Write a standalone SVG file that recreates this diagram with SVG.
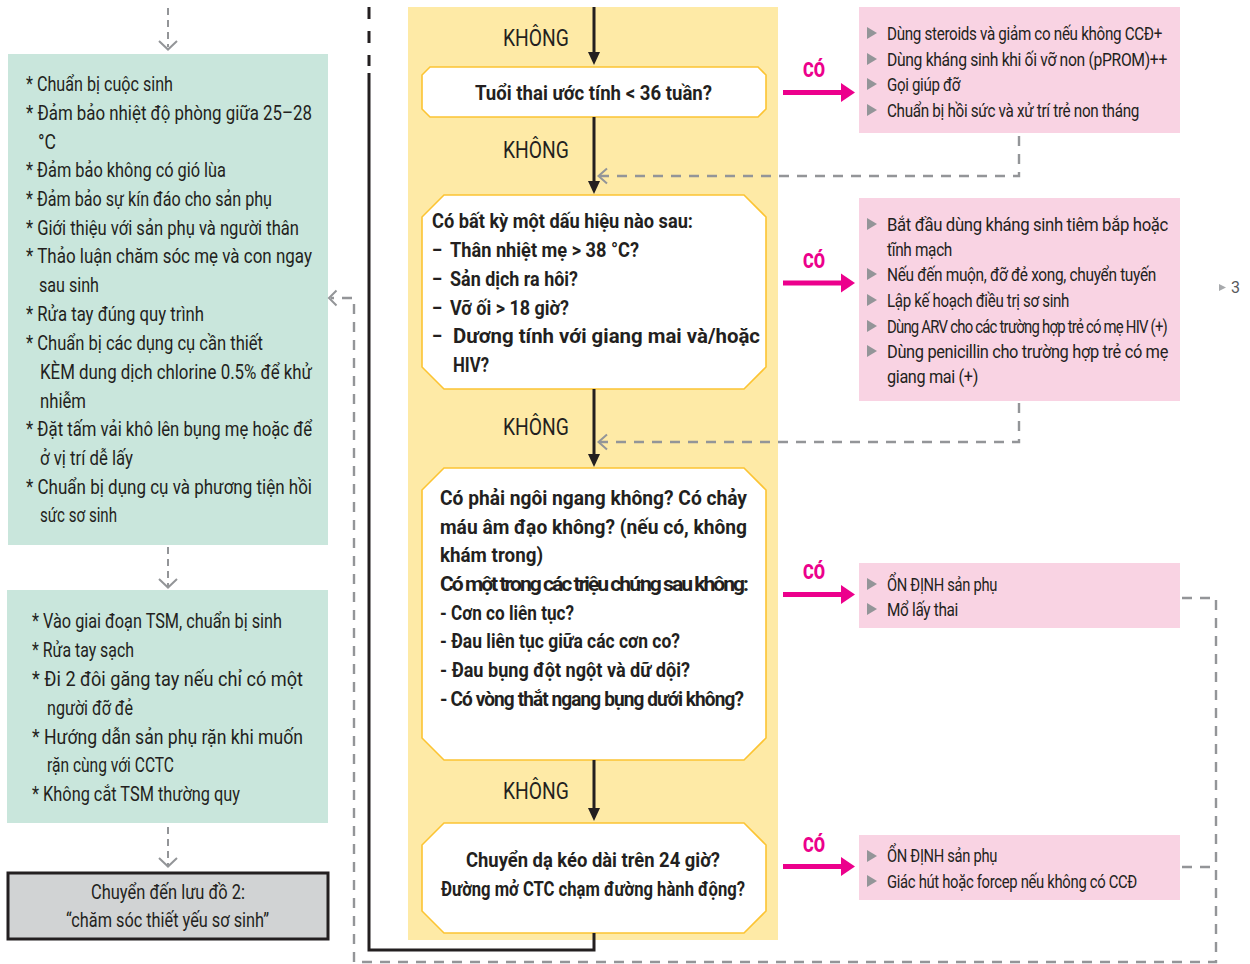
<svg xmlns="http://www.w3.org/2000/svg" width="1250" height="964" viewBox="0 0 1250 964">
  <style>
    .t { font-family: Roboto, "Noto Sans", "Liberation Sans", sans-serif; fill: #231f20; }
    .lst { font-size: 20px; }
    .pk { font-size: 19px; letter-spacing: -0.4px; }
    .q { font-size: 21px; font-weight: bold; }
    .no { font-size: 23px; }
    .yes { font-size: 21px; font-weight: 900; fill: #ec008c; }
    .green { fill: #c9e6dc; }
    .pink { fill: #f9d3e3; }
    .oct { fill: #ffffff; stroke: #fcc433; stroke-width: 1.6; }
    .dash { fill: none; stroke: #939598; stroke-width: 2.4; stroke-dasharray: 10 8; }
    .dashs { fill: none; stroke: #939598; stroke-width: 2; stroke-dasharray: 7 5; }
    .chev { fill: none; stroke: #939598; stroke-width: 2; }
    .blk { fill: none; stroke: #231f20; stroke-width: 3; }
    .blkhd { fill: #231f20; }
    .pkln { stroke: #ec008c; stroke-width: 5; }
    .pkhd { fill: #ec008c; }
    .tri { fill: #939598; }
  </style>

  <!-- yellow decision column -->
  <rect id="decision-band" x="408" y="7" width="370" height="933" fill="#feeaa6"/>

  <!-- left column: preparation steps -->
  <g id="prep-birth">
    <rect class="green" x="8" y="54" width="320" height="491"/>
    <g class="t lst">
      <text x="26" y="91" textLength="147" lengthAdjust="spacingAndGlyphs">* Chuẩn bị cuộc sinh</text>
      <text x="26" y="120" textLength="286" lengthAdjust="spacingAndGlyphs">* Đảm bảo nhiệt độ phòng giữa 25–28</text>
      <text x="38" y="148.5" textLength="18" lengthAdjust="spacingAndGlyphs">°C</text>
      <text x="26" y="177" textLength="200" lengthAdjust="spacingAndGlyphs">* Đảm bảo không có gió lùa</text>
      <text x="26" y="206" textLength="246" lengthAdjust="spacingAndGlyphs">* Đảm bảo sự kín đáo cho sản phụ</text>
      <text x="26" y="234.5" textLength="273" lengthAdjust="spacingAndGlyphs">* Giới thiệu với sản phụ và người thân</text>
      <text x="26" y="263" textLength="286" lengthAdjust="spacingAndGlyphs">* Thảo luận chăm sóc mẹ và con ngay</text>
      <text x="39" y="292" textLength="60" lengthAdjust="spacingAndGlyphs">sau sinh</text>
      <text x="26" y="321" textLength="178" lengthAdjust="spacingAndGlyphs">* Rửa tay đúng quy trình</text>
      <text x="26" y="350" textLength="237" lengthAdjust="spacingAndGlyphs">* Chuẩn bị  các dụng cụ cần thiết</text>
      <text x="40" y="379" textLength="272" lengthAdjust="spacingAndGlyphs">KÈM dung dịch chlorine 0.5% để khử</text>
      <text x="40" y="407.5" textLength="46" lengthAdjust="spacingAndGlyphs">nhiễm</text>
      <text x="26" y="436" textLength="286" lengthAdjust="spacingAndGlyphs">* Đặt tấm vải khô lên bụng mẹ hoặc để</text>
      <text x="40" y="465" textLength="93" lengthAdjust="spacingAndGlyphs">ở vị trí dễ lấy</text>
      <text x="26" y="493.5" textLength="286" lengthAdjust="spacingAndGlyphs">* Chuẩn bị dụng cụ và phương tiện hồi</text>
      <text x="40" y="522" textLength="77" lengthAdjust="spacingAndGlyphs">sức sơ sinh</text>
    </g>
  </g>

  <g id="second-stage">
    <rect class="green" x="7" y="590" width="321" height="233"/>
    <g class="t lst">
      <text x="32" y="628" textLength="250" lengthAdjust="spacingAndGlyphs">* Vào giai đoạn TSM, chuẩn bị sinh</text>
      <text x="32" y="657" textLength="102" lengthAdjust="spacingAndGlyphs">* Rửa tay sạch</text>
      <text x="32" y="686" textLength="271" lengthAdjust="spacingAndGlyphs">* Đi 2 đôi găng tay nếu chỉ có một</text>
      <text x="47" y="715" textLength="86" lengthAdjust="spacingAndGlyphs">người đỡ đẻ</text>
      <text x="32" y="743.5" textLength="271" lengthAdjust="spacingAndGlyphs">* Hướng dẫn sản phụ rặn khi muốn</text>
      <text x="47" y="772" textLength="127" lengthAdjust="spacingAndGlyphs">rặn cùng với CCTC</text>
      <text x="32" y="801" textLength="208" lengthAdjust="spacingAndGlyphs">* Không cắt TSM thường quy</text>
    </g>
  </g>

  <g id="goto-chart-2">
    <rect x="8" y="873" width="320" height="66" fill="#d1d3d4" stroke="#231f20" stroke-width="3"/>
    <g class="t lst">
      <text x="91" y="899" textLength="154" lengthAdjust="spacingAndGlyphs">Chuyển đến lưu đồ 2:</text>
      <text x="66" y="927" textLength="203" lengthAdjust="spacingAndGlyphs">“chăm sóc thiết yếu sơ sinh”</text>
    </g>
  </g>

  <!-- decision nodes -->
  <g id="q-gestation">
    <polygon class="oct" points="430,67 758,67 766,75 766,109 758,117 430,117 422,109 422,75"/>
    <text class="t q" x="475" y="100" textLength="237" lengthAdjust="spacingAndGlyphs">Tuổi thai ước tính &lt; 36 tuần?</text>
  </g>

  <g id="q-infection">
    <polygon class="oct" points="444,195 744,195 766,217 766,367 744,389 444,389 422,367 422,217"/>
    <g class="t q">
      <text x="432" y="228" textLength="261" lengthAdjust="spacingAndGlyphs">Có bất kỳ một dấu hiệu nào sau:</text>
      <text x="432" y="257" textLength="10" lengthAdjust="spacingAndGlyphs">–</text>
      <text x="450" y="257" textLength="189" lengthAdjust="spacingAndGlyphs">Thân nhiệt mẹ &gt; 38 °C?</text>
      <text x="432" y="286" textLength="10" lengthAdjust="spacingAndGlyphs">–</text>
      <text x="450" y="286" textLength="128" lengthAdjust="spacingAndGlyphs">Sản dịch ra hôi?</text>
      <text x="432" y="314.5" textLength="10" lengthAdjust="spacingAndGlyphs">–</text>
      <text x="450" y="314.5" textLength="119" lengthAdjust="spacingAndGlyphs">Vỡ ối &gt; 18 giờ?</text>
      <text x="432" y="343" textLength="10" lengthAdjust="spacingAndGlyphs">–</text>
      <text x="453" y="343" textLength="307" lengthAdjust="spacingAndGlyphs">Dương tính với giang mai và/hoặc</text>
      <text x="453" y="372" textLength="36" lengthAdjust="spacingAndGlyphs">HIV?</text>
    </g>
  </g>

  <g id="q-emergency">
    <polygon class="oct" points="444,468 744,468 766,490 766,738 744,760 444,760 422,738 422,490"/>
    <g class="t q">
      <text x="440" y="505" textLength="307" lengthAdjust="spacingAndGlyphs">Có phải ngôi ngang không? Có chảy</text>
      <text x="440" y="533.5" textLength="307" lengthAdjust="spacingAndGlyphs">máu âm đạo không? (nếu có, không</text>
      <text x="440" y="562" textLength="103" lengthAdjust="spacingAndGlyphs">khám trong)</text>
      <text x="440" y="591" textLength="307" lengthAdjust="spacingAndGlyphs" style="letter-spacing:-2px">Có một trong các triệu chứng sau không:</text>
      <text x="440" y="619.5" textLength="134" lengthAdjust="spacingAndGlyphs">- Cơn co liên tục?</text>
      <text x="440" y="648" textLength="240" lengthAdjust="spacingAndGlyphs">- Đau liên tục giữa các cơn co?</text>
      <text x="440" y="677" textLength="250" lengthAdjust="spacingAndGlyphs">- Đau bụng đột ngột và dữ dội?</text>
      <text x="440" y="705.5" textLength="303" lengthAdjust="spacingAndGlyphs" style="letter-spacing:-1px">- Có vòng thắt ngang bụng dưới không?</text>
    </g>
  </g>

  <g id="q-prolonged">
    <polygon class="oct" points="444,823 744,823 766,845 766,911 744,933 444,933 422,911 422,845"/>
    <g class="t q">
      <text x="466" y="867" textLength="254" lengthAdjust="spacingAndGlyphs">Chuyển dạ kéo dài trên  24 giờ?</text>
      <text x="441" y="895.5" textLength="304" lengthAdjust="spacingAndGlyphs">Đường mở CTC chạm đường hành động?</text>
    </g>
  </g>

  <!-- action boxes -->
  <g id="act-preterm">
    <rect class="pink" x="859" y="7" width="321" height="126"/>
    <polygon class="tri" points="867,27 877,33 867,39"/>
    <polygon class="tri" points="867,53 877,59 867,65"/>
    <polygon class="tri" points="867,78 877,84 867,90"/>
    <polygon class="tri" points="867,104 877,110 867,116"/>
    <g class="t pk">
      <text x="887" y="40" textLength="275" lengthAdjust="spacingAndGlyphs">Dùng steroids và giảm co nếu không CCĐ+</text>
      <text x="887" y="66" textLength="280" lengthAdjust="spacingAndGlyphs">Dùng kháng sinh khi ối vỡ non (pPROM)++</text>
      <text x="887" y="91" textLength="73" lengthAdjust="spacingAndGlyphs">Gọi giúp đỡ</text>
      <text x="887" y="117" textLength="252" lengthAdjust="spacingAndGlyphs">Chuẩn bị hồi sức và xử trí trẻ non tháng</text>
    </g>
  </g>

  <g id="act-infection">
    <rect class="pink" x="859" y="198" width="321" height="203"/>
    <polygon class="tri" points="867,218 877,224 867,230"/>
    <polygon class="tri" points="867,268 877,274 867,280"/>
    <polygon class="tri" points="867,294 877,300 867,306"/>
    <polygon class="tri" points="867,320 877,326 867,332"/>
    <polygon class="tri" points="867,345 877,351 867,357"/>
    <g class="t pk">
      <text x="887" y="231" textLength="281" lengthAdjust="spacingAndGlyphs">Bắt đầu dùng kháng sinh tiêm bắp hoặc</text>
      <text x="887" y="256" textLength="65" lengthAdjust="spacingAndGlyphs">tĩnh mạch</text>
      <text x="887" y="281" textLength="269" lengthAdjust="spacingAndGlyphs">Nếu đến muộn, đỡ đẻ xong, chuyển tuyến</text>
      <text x="887" y="307" textLength="182" lengthAdjust="spacingAndGlyphs">Lập kế hoạch điều trị sơ sinh</text>
      <text x="887" y="333" textLength="280" lengthAdjust="spacingAndGlyphs" style="letter-spacing:-1px">Dùng ARV cho các trường hợp trẻ có mẹ HIV (+)</text>
      <text x="887" y="358" textLength="281" lengthAdjust="spacingAndGlyphs">Dùng penicillin cho trường hợp trẻ có mẹ</text>
      <text x="887" y="383" textLength="91" lengthAdjust="spacingAndGlyphs">giang mai (+)</text>
    </g>
  </g>

  <g id="act-caesarean">
    <rect class="pink" x="859" y="563" width="321" height="65"/>
    <polygon class="tri" points="867,578 877,584 867,590"/>
    <polygon class="tri" points="867,603 877,609 867,615"/>
    <g class="t pk">
      <text x="887" y="591" textLength="110" lengthAdjust="spacingAndGlyphs">ỔN ĐỊNH sản phụ</text>
      <text x="887" y="616" textLength="71" lengthAdjust="spacingAndGlyphs">Mổ lấy thai</text>
    </g>
  </g>

  <g id="act-assisted">
    <rect class="pink" x="859" y="835" width="321" height="65"/>
    <polygon class="tri" points="867,850 877,856 867,862"/>
    <polygon class="tri" points="867,875 877,881 867,887"/>
    <g class="t pk">
      <text x="887" y="862" textLength="110" lengthAdjust="spacingAndGlyphs">ỔN ĐỊNH sản phụ</text>
      <text x="887" y="888" textLength="250" lengthAdjust="spacingAndGlyphs">Giác hút hoặc forcep nếu không có CCĐ</text>
    </g>
  </g>

  <g id="page-ref">
    <polygon points="1219,284 1226,287.5 1219,291" fill="#a7a9ac"/>
    <text x="1231" y="293" font-family="Roboto, 'Noto Sans', sans-serif" font-size="16" fill="#58595b">3</text>
  </g>

  <!-- connectors -->
  <g id="connectors">
    <!-- left column flow -->
    <line class="dashs" x1="168" y1="8" x2="168" y2="47"/>
    <polyline class="chev" points="159,41 168,49.5 177,41"/>
    <line class="dashs" x1="168" y1="547" x2="168" y2="586"/>
    <polyline class="chev" points="159,579 168,587.5 177,579"/>
    <line class="dashs" x1="168" y1="827" x2="168" y2="866"/>
    <polyline class="chev" points="159,858 168,866.5 177,858"/>

    <!-- outer black return line -->
    <line x1="369" y1="7" x2="369" y2="66" stroke="#231f20" stroke-width="3" stroke-dasharray="12 12"/>
    <polyline class="blk" points="369,73 369,950 594,950 594,933"/>

    <!-- KHÔNG arrows -->
    <line class="blk" x1="594" y1="7" x2="594" y2="54"/>
    <polygon class="blkhd" points="588,52 600,52 594,65"/>
    <line class="blk" x1="594" y1="117" x2="594" y2="183"/>
    <polygon class="blkhd" points="588,181 600,181 594,194"/>
    <line class="blk" x1="594" y1="389" x2="594" y2="456"/>
    <polygon class="blkhd" points="588,454 600,454 594,467"/>
    <line class="blk" x1="594" y1="760" x2="594" y2="810"/>
    <polygon class="blkhd" points="588,808 600,808 594,821"/>
    <g class="t no">
      <text x="503" y="46" textLength="66" lengthAdjust="spacingAndGlyphs">KHÔNG</text>
      <text x="503" y="158" textLength="66" lengthAdjust="spacingAndGlyphs">KHÔNG</text>
      <text x="503" y="435" textLength="66" lengthAdjust="spacingAndGlyphs">KHÔNG</text>
      <text x="503" y="799" textLength="66" lengthAdjust="spacingAndGlyphs">KHÔNG</text>
    </g>

    <!-- CÓ arrows -->
    <line class="pkln" x1="783" y1="92.5" x2="843" y2="92.5"/>
    <polygon class="pkhd" points="841,83 855,92.5 841,102"/>
    <line class="pkln" x1="783" y1="283" x2="843" y2="283"/>
    <polygon class="pkhd" points="841,273.5 855,283 841,292.5"/>
    <line class="pkln" x1="783" y1="594.5" x2="843" y2="594.5"/>
    <polygon class="pkhd" points="841,585 855,594.5 841,604"/>
    <line class="pkln" x1="783" y1="866.5" x2="843" y2="866.5"/>
    <polygon class="pkhd" points="841,857 855,866.5 841,876"/>
    <g class="t yes">
      <text x="803" y="77" textLength="22" lengthAdjust="spacingAndGlyphs">CÓ</text>
      <text x="803" y="268" textLength="22" lengthAdjust="spacingAndGlyphs">CÓ</text>
      <text x="803" y="579" textLength="22" lengthAdjust="spacingAndGlyphs">CÓ</text>
      <text x="803" y="852" textLength="22" lengthAdjust="spacingAndGlyphs">CÓ</text>
    </g>

    <!-- returns from action boxes into the main flow -->
    <polyline class="dash" points="1019,136 1019,176 600,176"/>
    <polyline class="chev" points="607,168.5 598.5,176 607,183.5"/>
    <polyline class="dash" points="1019,403 1019,442 600,442"/>
    <polyline class="chev" points="607,434.5 598.5,442 607,449.5"/>

    <!-- returns from delivery boxes back to the left column -->
    <polyline class="dash" points="1182,598 1216,598 1216,962 354,962 354,298 331,298"/>
    <line class="dash" x1="1182" y1="867" x2="1216" y2="867"/>
    <polyline class="chev" points="336.5,290.5 329,298 336.5,305.5"/>
  </g>
</svg>
